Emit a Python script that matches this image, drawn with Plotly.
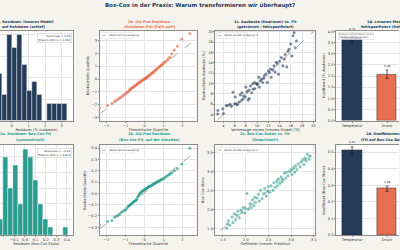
import plotly.graph_objects as go

W, H = 400, 250
def px(x): return x / W
def py(y): return 1 - y / H

NAVY = "#243b5a"; ORANGE = "#e76f51"; TEAL = "#2a9d8f"; BG = "#f5f3ee"
FONT = "DejaVu Sans"

# ---------------- data ----------------
# 1a histogram (raw-data residuals)
h1_centers = [-0.73, -0.43, -0.13, 0.17, 0.47, 0.77, 1.07, 1.37, 1.67, 1.97, 2.27, 2.57, 2.87, 3.17]
h1_counts = [11, 6, 20, 17, 20, 13, 7, 9, 6, 0, 4, 4, 4, 4]
h1_width = 0.3
# 2a histogram (Box-Cox residuals)
h2_centers = [-0.236, -0.188, -0.140, -0.092, -0.044, 0.004, 0.052, 0.100, 0.148, 0.196, 0.244, 0.292, 0.340, 0.388]
h2_counts = [2, 10, 6, 9, 4, 11, 10, 7, 4, 2, 1, 0, 0, 1]
h2_width = 0.048

# QQ plots
qq_theo = [-2.39, -1.96, -1.73, -1.57, -1.44, -1.33, -1.24, -1.15, -1.07, -1.00, -0.93, -0.87, -0.81, -0.76, -0.70,
           -0.65, -0.60, -0.55, -0.50, -0.45, -0.41, -0.36, -0.32, -0.27, -0.23, -0.19, -0.15, -0.10, -0.06, -0.02,
           0.02, 0.06, 0.10, 0.15, 0.19, 0.23, 0.27, 0.32, 0.36, 0.41, 0.45, 0.50, 0.55, 0.60, 0.65,
           0.70, 0.76, 0.81, 0.87, 0.93, 1.00, 1.07, 1.15, 1.24, 1.33, 1.44, 1.57, 1.73, 1.96, 2.39]
qq1_obs = [-2.25, -2.05, -1.90, -1.72, -1.60, -1.50, -1.42, -1.30, -1.22, -1.12, -1.05, -0.98, -0.90, -0.80, -0.74,
           -0.66, -0.62, -0.58, -0.52, -0.48, -0.40, -0.36, -0.30, -0.27, -0.22, -0.18, -0.12, -0.08, -0.05, -0.02,
           0.02, 0.06, 0.12, 0.15, 0.22, 0.26, 0.32, 0.38, 0.42, 0.48, 0.52, 0.58, 0.66, 0.72, 0.78,
           0.86, 0.92, 1.00, 1.08, 1.15, 1.22, 1.32, 1.40, 1.55, 1.70, 1.95, 2.25, 2.55, 3.10, 3.55]
qq2_obs = [-0.28, -0.25, -0.24, -0.21, -0.20, -0.19, -0.17, -0.16, -0.15, -0.145, -0.13, -0.115, -0.11, -0.10, -0.095,
           -0.085, -0.08, -0.07, -0.068, -0.06, -0.05, -0.03, -0.02, -0.01, 0.0, 0.01, 0.015, 0.02, 0.025, 0.03,
           0.035, 0.04, 0.045, 0.05, 0.055, 0.06, 0.062, 0.065, 0.07, 0.075, 0.08, 0.085, 0.09, 0.095, 0.10,
           0.105, 0.11, 0.115, 0.12, 0.125, 0.13, 0.14, 0.15, 0.16, 0.17, 0.18, 0.20, 0.22, 0.26, 0.40]
qq1_line = (0.0, 1.15)     # intercept, slope
qq2_line = (0.005, 0.135)
qq_line_x = [-2.4, 2.45]

# 1c scatter
x1c = [3.0, 3.0, 3.9, 4.0, 4.5, 4.8, 5.2, 5.4, 5.7, 6.0, 6.1, 6.3, 6.5, 6.8, 7.0, 7.2, 7.3, 7.5, 7.6, 7.9, 8.0, 8.2,
       8.4, 8.5, 8.6, 8.8, 9.0, 9.2, 9.3, 9.5, 9.6, 9.8, 10.0, 10.1, 10.3, 10.4, 10.6, 10.8, 11.0, 11.2, 11.3, 11.6,
       11.8, 12.0, 12.2, 12.4, 12.5, 12.8, 13.0, 13.2, 13.4, 13.6, 13.8, 14.0, 14.3, 14.6, 14.8, 15.0, 15.3, 15.5,
       15.7, 16.0, 16.2, 16.4, 16.6, 16.8, 17.0]
y1c = [4.8, 4.1, 5.1, 4.2, 5.7, 5.8, 6.0, 5.6, 8.3, 6.1, 7.4, 6.0, 5.9, 6.4, 7.8, 6.7, 8.2, 7.0, 7.6, 7.4, 9.3, 8.4,
       6.8, 8.7, 7.1, 9.5, 8.2, 9.9, 8.9, 10.2, 9.0, 10.0, 9.8, 9.9, 11.2, 9.3, 10.5, 10.8, 10.2, 11.0, 11.5, 11.8,
       10.2, 12.4, 12.1, 12.8, 11.2, 12.6, 13.4, 12.2, 14.1, 13.8, 11.8, 14.3, 15.0, 13.4, 14.7, 15.6, 13.2, 16.2,
       16.6, 17.6, 15.3, 19.2, 19.8, 16.9, 18.2]
line1c = [3.0, 20.0]

# 2c scatter
x2c = [1.58, 1.60, 1.62, 1.65, 1.70, 1.72, 1.75, 1.78, 1.80, 1.83, 1.86, 1.90, 1.92, 1.95, 1.98, 2.00, 2.03, 2.06,
       2.10, 2.12, 2.15, 2.18, 2.20, 2.22, 2.25, 2.28, 2.30, 2.33, 2.36, 2.40, 2.42, 2.45, 2.48, 2.50, 2.53, 2.56,
       2.60, 2.62, 2.65, 2.68, 2.70, 2.72, 2.75, 2.78, 2.80, 2.82, 2.85, 2.88, 2.90, 2.93, 2.96, 3.00, 3.02, 3.05,
       3.08, 3.10, 3.13, 3.16, 3.20, 3.22, 3.25, 3.28, 3.30, 3.33, 3.36, 3.40, 3.42]
y2c = [1.50, 1.62, 1.70, 1.58, 1.80, 1.65, 1.88, 1.72, 1.85, 1.95, 1.78, 1.98, 1.92, 2.05, 1.90, 2.02, 2.42, 2.00,
       2.15, 2.05, 2.25, 2.10, 2.32, 2.18, 2.30, 2.40, 2.22, 2.50, 2.28, 2.42, 2.55, 2.35, 2.48, 2.60, 2.45, 2.62,
       2.50, 2.70, 2.58, 2.75, 2.62, 2.80, 2.68, 2.85, 2.72, 2.78, 2.95, 2.82, 2.98, 2.88, 3.00, 3.05, 2.92, 3.10,
       2.98, 3.15, 3.05, 3.20, 3.12, 3.25, 3.30, 3.18, 3.35, 3.28, 3.45, 3.32, 3.40]
line2c = [1.45, 3.5]

# coefficients
coef_names = ["Temperatur", "Druck"]
coef_raw = [3.72, 2.08]
coef_raw_err = [0.20, 0.19]
coef_bc = [0.51, 0.28]
coef_bc_err = [0.022, 0.016]

fig = go.Figure()

# 1a
fig.add_trace(go.Bar(x=h1_centers, y=h1_counts, width=h1_width, marker_color=NAVY,
                     marker_line=dict(color="white", width=0.4), xaxis="x", yaxis="y", showlegend=False))
# 2a
fig.add_trace(go.Bar(x=h2_centers, y=h2_counts, width=h2_width, marker_color=TEAL,
                     marker_line=dict(color="white", width=0.4), xaxis="x5", yaxis="y5", showlegend=False))
# QQ lines & points
for (b0, b1), obs, col, xa, ya in [(qq1_line, qq1_obs, ORANGE, "x2", "y2"), (qq2_line, qq2_obs, TEAL, "x6", "y6")]:
    fig.add_trace(go.Scatter(x=qq_line_x, y=[b0 + b1 * v for v in qq_line_x], mode="lines",
                             line=dict(color="#777", width=0.6, dash="dash"), xaxis=xa, yaxis=ya, showlegend=False))
    fig.add_trace(go.Scatter(x=qq_theo, y=obs, mode="markers",
                             marker=dict(size=2.6, color=col, opacity=0.75, line=dict(color=col, width=0.3)),
                             xaxis=xa, yaxis=ya, showlegend=False))
# 1c
fig.add_trace(go.Scatter(x=line1c, y=line1c, mode="lines", line=dict(color="#777", width=0.6, dash="dash"),
                         xaxis="x3", yaxis="y3", showlegend=False))
fig.add_trace(go.Scatter(x=x1c, y=y1c, mode="markers",
                         marker=dict(size=2.6, color=NAVY, opacity=0.6, line=dict(color=NAVY, width=0.4)),
                         xaxis="x3", yaxis="y3", showlegend=False))
# 2c
fig.add_trace(go.Scatter(x=line2c, y=line2c, mode="lines", line=dict(color="#777", width=0.6, dash="dash"),
                         xaxis="x7", yaxis="y7", showlegend=False))
fig.add_trace(go.Scatter(x=x2c, y=y2c, mode="markers",
                         marker=dict(size=2.6, color=TEAL, opacity=0.6, line=dict(color=TEAL, width=0.4)),
                         xaxis="x7", yaxis="y7", showlegend=False))
# coefficient bars
for vals, errs, xa, ya in [(coef_raw, coef_raw_err, "x4", "y4"), (coef_bc, coef_bc_err, "x8", "y8")]:
    fig.add_trace(go.Bar(x=coef_names, y=vals, width=0.55, marker_color=[NAVY, ORANGE],
                         marker_line=dict(color="#222", width=0.5),
                         error_y=dict(type="data", array=errs, color="#111", thickness=0.6, width=1.5),
                         xaxis=xa, yaxis=ya, showlegend=False))

annotations = []
for vals, errs, xa, ya in [(coef_raw, coef_raw_err, "x4", "y4"), (coef_bc, coef_bc_err, "x8", "y8")]:
    for n, v, e in zip(coef_names, vals, errs):
        annotations.append(dict(x=n, y=v + e, xref=xa, yref=ya, text=f"{v:.2f}", showarrow=False,
                                yanchor="bottom", yshift=0.5, font=dict(size=2.8, color="#222", family=FONT)))

base = dict(showline=True, linecolor="#8c8c8c", linewidth=0.6, mirror=True, showgrid=True,
            gridcolor="#e4e4e4", gridwidth=0.5, ticks="outside", ticklen=1.2, tickwidth=0.5,
            tickcolor="#8c8c8c", tickfont=dict(size=3.6, color="#333", family=FONT), zeroline=False)
tfont = dict(size=3.6, color="#333", family=FONT)

def ax(**kw):
    d = dict(base); d.update(kw); return d

r1 = [py(121), py(30)]
r2 = [py(237), py(146)]
c1 = [0, px(73)]; c2 = [px(100), px(197)]; c3 = [px(216), px(316)]; c4 = [px(337), 1]

layout = dict(
    width=W, height=H, margin=dict(l=0, r=0, t=0, b=0), paper_bgcolor=BG, plot_bgcolor="white",
    bargap=0, font=dict(family=FONT),
    title=dict(text="<b>Box-Cox in der Praxis: Warum transformieren wir überhaupt?</b>", x=0.5, xanchor="center",
               y=py(5), yanchor="middle", font=dict(size=5.5, color=NAVY, family=FONT)),
    xaxis=ax(domain=c1, anchor="y", range=[-0.72, 3.67], tickvals=[0, 1, 2, 3],
             title=dict(text="Residuen (% Ausbeute)", font=tfont, standoff=1)),
    yaxis=ax(domain=r1, anchor="x", range=[0, 20.9], showticklabels=False, ticks="", dtick=5),
    xaxis2=ax(domain=c2, anchor="y2", range=[-2.37, 2.74], tickvals=[-2, -1, 0, 1, 2],
              title=dict(text="Theoretische Quantile", font=tfont, standoff=1)),
    yaxis2=ax(domain=r1, anchor="x2", range=[-3.23, 3.77], tickvals=[-3, -2, -1, 0, 1, 2, 3],
              ticktext=["−3", "−2", "−1", "0", "1", "2", "3"],
              title=dict(text="Beobachtete Quantile", font=tfont, standoff=2)),
    xaxis3=ax(domain=c3, anchor="y3", range=[2.58, 20.35], tickvals=list(range(4, 21, 2)),
              title=dict(text="Vorhersage naives lineares Modell [%]", font=tfont, standoff=1)),
    yaxis3=ax(domain=r1, anchor="x3", range=[2.85, 20.2], tickvals=list(range(4, 21, 2)),
              title=dict(text="Beobachtete Ausbeute [%]", font=tfont, standoff=2)),
    xaxis4=ax(domain=c4, anchor="y4", range=[-0.457, 1.343], showgrid=False),
    yaxis4=ax(domain=r1, anchor="x4", range=[0, 4.04], tickvals=[0, 0.5, 1, 1.5, 2, 2.5, 3, 3.5, 4],
              tickformat=".1f", mirror=False,
              title=dict(text="Koeffizient [% Ausbeute]", font=tfont, standoff=2)),
    xaxis5=ax(domain=c1, anchor="y5", range=[-0.238, 0.457], tickvals=[-0.2, -0.1, 0, 0.1, 0.2, 0.3, 0.4],
              ticktext=["−0.2", "−0.1", "0.0", "0.1", "0.2", "0.3", "0.4"],
              title=dict(text="Residuen (Box-Cox-Skala)", font=tfont, standoff=1)),
    yaxis5=ax(domain=r2, anchor="x5", range=[0, 11.5], showticklabels=False, ticks="", dtick=2),
    xaxis6=ax(domain=c2, anchor="y6", range=[-2.37, 2.74], tickvals=[-2, -1, 0, 1, 2],
              ticktext=["−2", "−1", "0", "1", "2"],
              title=dict(text="Theoretische Quantile", font=tfont, standoff=1)),
    yaxis6=ax(domain=r2, anchor="x6", range=[-0.37, 0.426], tickvals=[-0.3, -0.2, -0.1, 0, 0.1, 0.2, 0.3, 0.4],
              ticktext=["−0.3", "−0.2", "−0.1", "0.0", "0.1", "0.2", "0.3", "0.4"],
              title=dict(text="Beobachtete Quantile", font=tfont, standoff=2)),
    xaxis7=ax(domain=c3, anchor="y7", range=[1.335, 3.53], tickvals=[1.5, 2.0, 2.5, 3.0, 3.5], tickformat=".1f",
              title=dict(text="Gefitteter linearer Prädiktor", font=tfont, standoff=1)),
    yaxis7=ax(domain=r2, anchor="x7", range=[1.32, 3.69], tickvals=[1.5, 2.0, 2.5, 3.0, 3.5], tickformat=".1f",
              title=dict(text="Box-Cox-Skala", font=tfont, standoff=2)),
    xaxis8=ax(domain=c4, anchor="y8", range=[-0.457, 1.343], showgrid=False),
    yaxis8=ax(domain=r2, anchor="x8", range=[0, 0.542], tickvals=[0, 0.1, 0.2, 0.3, 0.4, 0.5], tickformat=".1f",
              mirror=False, title=dict(text="Koeffizient (Box-Cox-Skala)", font=tfont, standoff=2)),
)
layout["xaxis2"]["ticktext"] = ["−2", "−1", "0", "1", "2"]

def title_ann(text, x, y, color, anchor="center"):
    return dict(text=f"<b>{text}</b>", x=px(x), y=py(y), xref="paper", yref="paper", xanchor=anchor,
                yanchor="middle", showarrow=False, font=dict(size=3.5, color=color, family=FONT))

annotations += [
    title_ann("1a. Residuen: lineares Modell", 55, 21, NAVY, "right"),
    title_ann("auf Rohdaten (schief)", 47, 26.5, NAVY, "right"),
    title_ann("1b. QQ-Plot Residuen", 150, 21, ORANGE),
    title_ann("(Rohdaten-Fit) [Fällt auf!]", 150, 26.5, ORANGE),
    title_ann("1c. Ausbeute (Realraum) vs. Fit", 266, 21, NAVY),
    title_ann("(gekrümmt / fehlspezifiziert)", 266, 26.5, NAVY),
    title_ann("1d. Lineares Modell: Koeffizienten", 366, 21, NAVY, "left"),
    title_ann("fehlspezifiziert (Rohdaten)", 360, 26.5, NAVY, "left"),
    title_ann("2a. Residuen: Box-Cox-Fit", 53, 135, TEAL, "right"),
    title_ann("(symmetrisch)", 31, 140.5, TEAL),
    title_ann("2b. QQ-Plot Residuen", 150, 135, TEAL),
    title_ann("(Box-Cox-Fit, auf der Geraden)", 150, 140.5, TEAL),
    title_ann("2c. Box-Cox-Daten vs. Fit", 266, 135, TEAL),
    title_ann("(linearisiert!)", 266, 140.5, TEAL),
    title_ann("2d. Koeffizienten", 365, 135, NAVY, "left"),
    title_ann("(Fit auf Box-Cox-Daten)", 360, 140.5, NAVY, "left"),
]

# stat boxes
for txt, y in [("Skewness = 0.35<br>Shapiro-Wilk p = 0.342", 32.5), ("Skewness = −0.02<br>Shapiro-Wilk p = 0.819", 148.5)]:
    annotations.append(dict(text=txt, x=px(72), y=py(y), xref="paper", yref="paper", xanchor="right", yanchor="top",
                            align="right", showarrow=False, bgcolor="white", bordercolor="#bbb", borderwidth=0.4,
                            borderpad=0.8, font=dict(size=2.8, color="#444", family=FONT)))
# 1d note
annotations.append(dict(text="Effekte auf Rohdaten-Skala<br>(Modell fehlspezifiziert)", x=px(338.5), y=py(31.5),
                        xref="paper", yref="paper", xanchor="left", yanchor="top", align="left", showarrow=False,
                        bgcolor="rgba(255,255,255,0.8)", bordercolor="#ccc", borderwidth=0.4, borderpad=0.6,
                        font=dict(size=2.5, color="#666", family=FONT)))

shapes = []
for (x0, y0, x1, y1, txt) in [(101, 32, 134, 38, "Ideale Normalverteilung"), (217, 32, 248, 38, "Ideale Gerade (Steigung 1)"),
                              (101, 148, 134, 154, "Ideale Normalverteilung"), (217, 148, 248, 154, "Ideale Gerade (Steigung 1)")]:
    shapes.append(dict(type="rect", xref="paper", yref="paper", x0=px(x0), x1=px(x1), y0=py(y0), y1=py(y1),
                       fillcolor="white", line=dict(color="#ccc", width=0.4)))
    ym = (y0 + y1) / 2
    shapes.append(dict(type="line", xref="paper", yref="paper", x0=px(x0 + 1.2), x1=px(x0 + 5.2), y0=py(ym), y1=py(ym),
                       line=dict(color="#777", width=0.5, dash="dash")))
    annotations.append(dict(text=txt, x=px(x0 + 6), y=py(ym), xref="paper", yref="paper", xanchor="left",
                            yanchor="middle", showarrow=False, font=dict(size=2.5, color="#444", family=FONT)))

layout["annotations"] = annotations
layout["shapes"] = shapes
fig.update_layout(**layout)
fig.write_html("out.html")
